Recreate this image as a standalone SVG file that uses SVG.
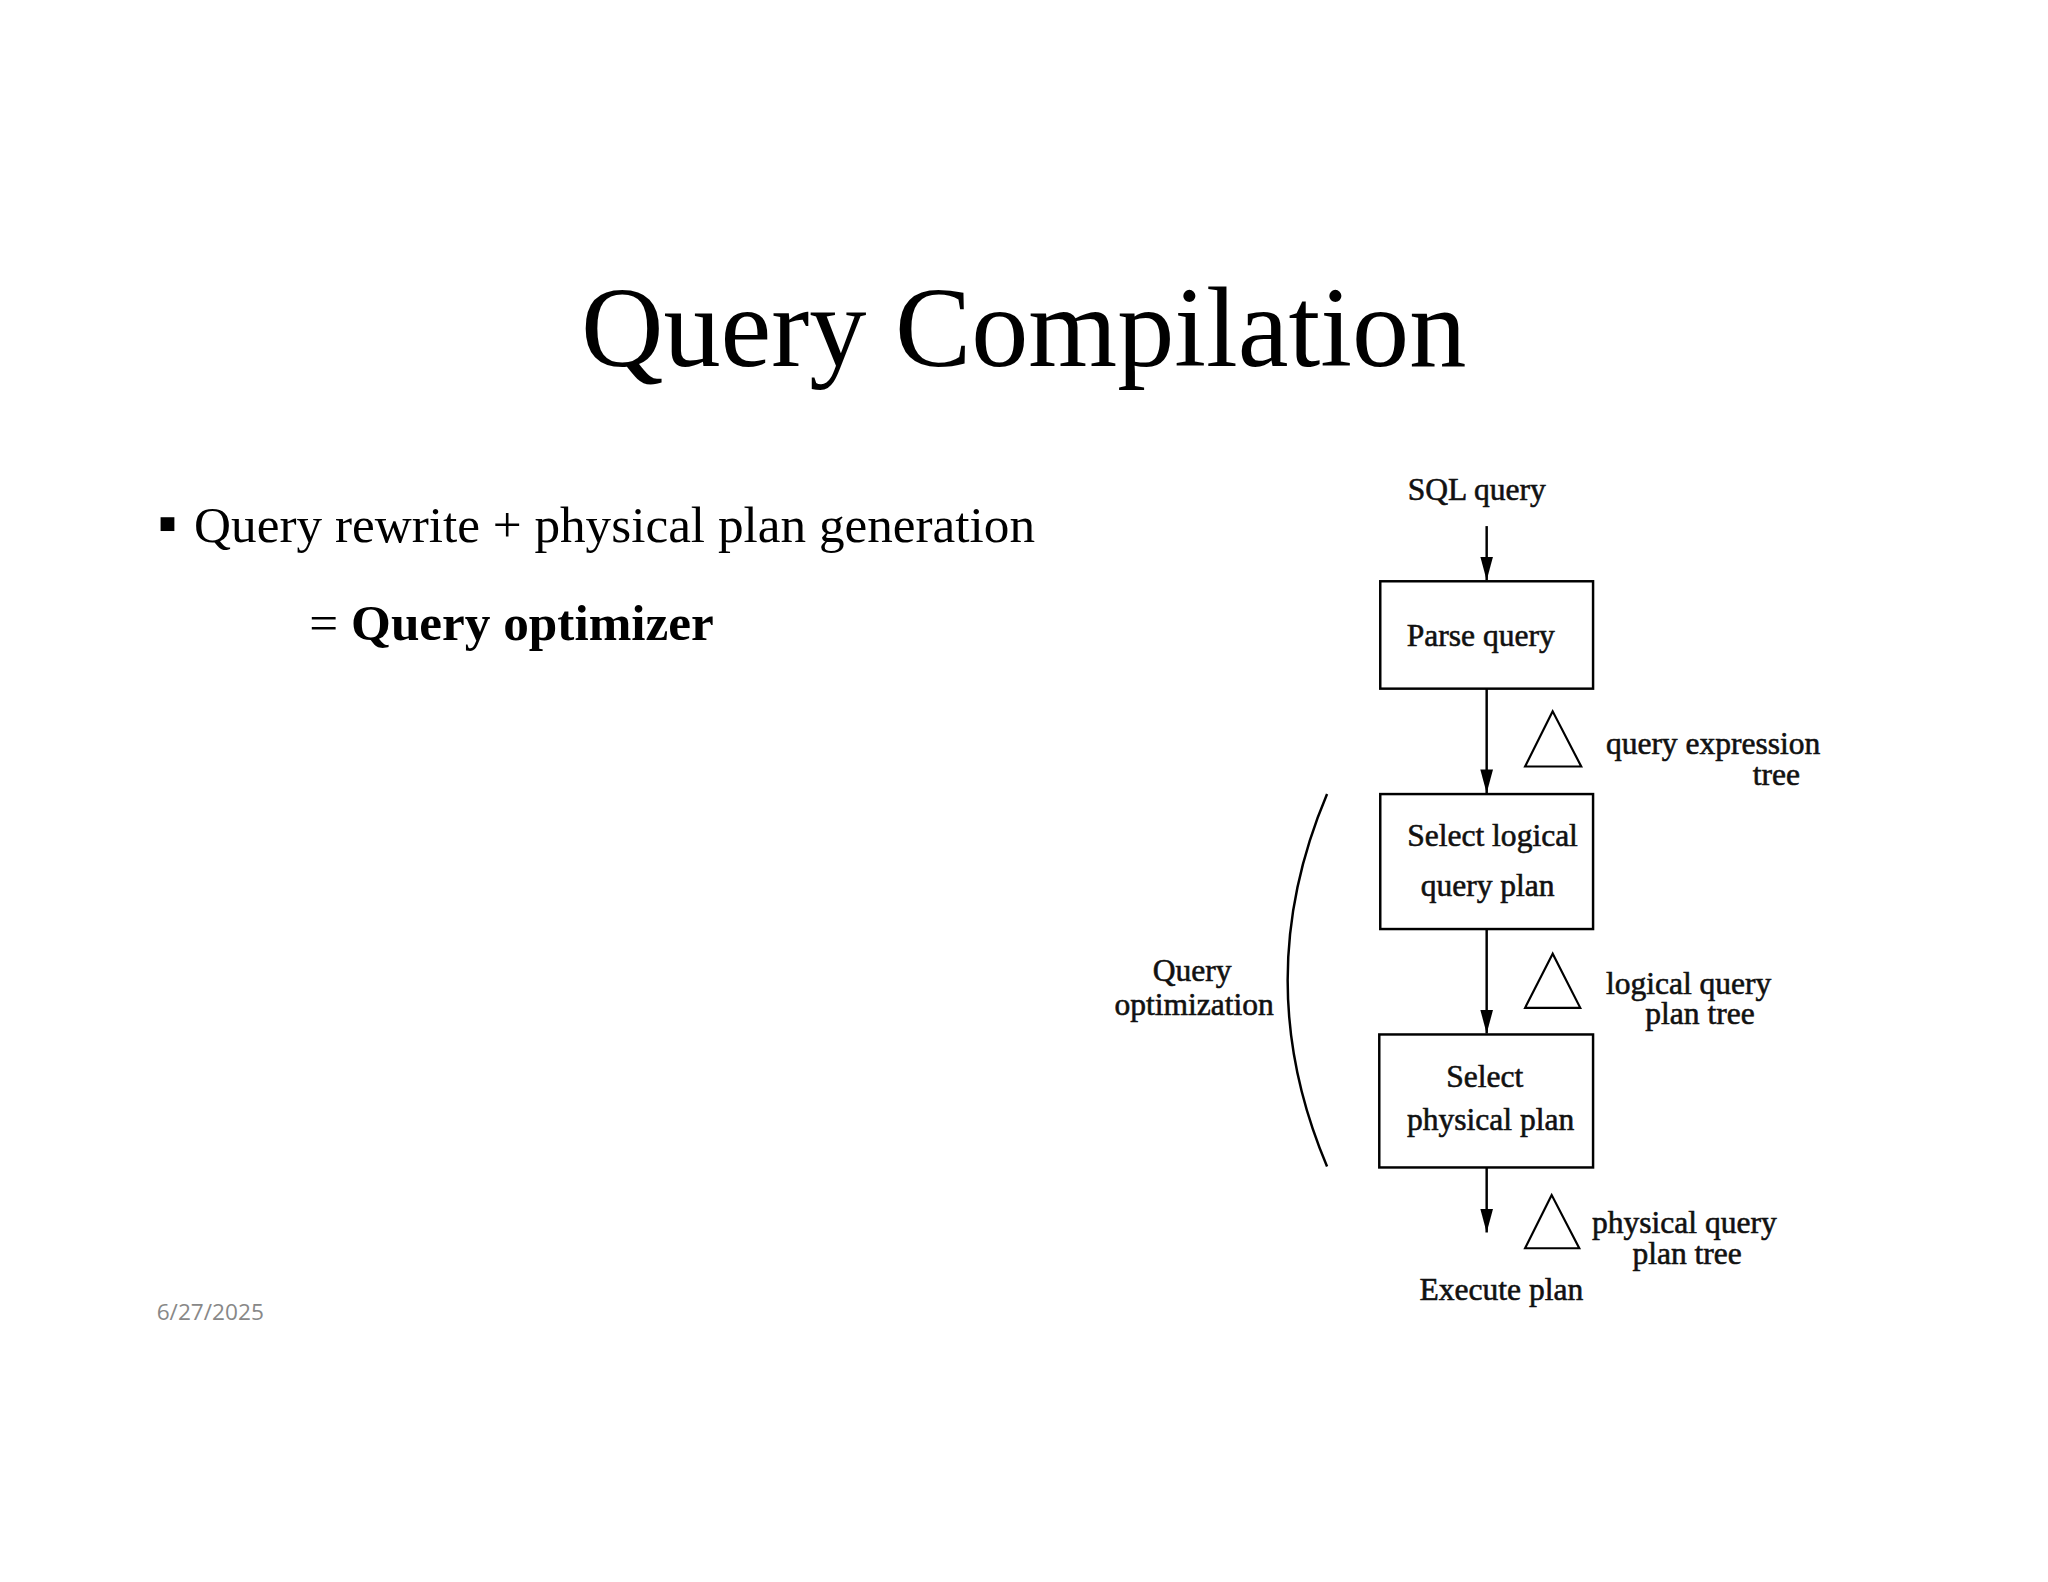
<svg xmlns="http://www.w3.org/2000/svg" width="2048" height="1582" viewBox="0 0 2048 1582">
<defs>
<marker id="arr" markerWidth="24" markerHeight="13" refX="26" refY="7" orient="auto" markerUnits="userSpaceOnUse" viewBox="0 0 26 14"><path d="M0,0 L26,7 L0,14 Z" fill="#000"/></marker>
</defs>
<style>
.t{font-family:"Liberation Serif","Times New Roman",serif;fill:#000}
.d{font-family:"Liberation Serif","Times New Roman",serif;font-size:32px;fill:#111;stroke:#111;stroke-width:0.6}
.box{fill:#fff;stroke:#000;stroke-width:2.5}
.tri{fill:#fff;stroke:#000;stroke-width:2.2}
.ln{stroke:#000;stroke-width:2.5;fill:none}
</style>
<rect width="2048" height="1582" fill="#fff"/>
<g transform="scale(0.9852)">
<text class="t" x="1039" y="371" font-size="116" text-anchor="middle">Query Compilation</text>
<rect x="163" y="525" width="14" height="14" fill="#000"/>
<text class="t" x="197" y="550" font-size="52">Query rewrite + physical plan generation</text>
<text class="t" x="314" y="650" font-size="52">= <tspan font-weight="bold">Query optimizer</tspan></text>
<text x="159" y="1340" font-family="'Open Sans','Liberation Sans',sans-serif" font-size="23" fill="#888">6/27/2025</text>
<g id="connectors">
<line class="ln" x1="1509" y1="534" x2="1509" y2="589" marker-end="url(#arr)"/>
<line class="ln" x1="1509" y1="699" x2="1509" y2="805" marker-end="url(#arr)"/>
<line class="ln" x1="1509" y1="943" x2="1509" y2="1049" marker-end="url(#arr)"/>
<line class="ln" x1="1509" y1="1185" x2="1509" y2="1251" marker-end="url(#arr)"/>
<path class="ln" d="M1347,806 Q1267,995 1347,1184" stroke-width="2"/>
</g>
<g id="sql"><text class="d" x="1499" y="508" text-anchor="middle">SQL query</text></g>
<g id="parse"><rect class="box" x="1401" y="590" width="216" height="109"/><text class="d" x="1503" y="656" text-anchor="middle">Parse query</text></g>
<g id="logical"><rect class="box" x="1401" y="806" width="216" height="137"/><text class="d" x="1515" y="859" text-anchor="middle">Select logical</text><text class="d" x="1510" y="909" text-anchor="middle">query plan</text></g>
<g id="physical"><rect class="box" x="1400" y="1050" width="217" height="135"/><text class="d" x="1507" y="1103" text-anchor="middle">Select</text><text class="d" x="1513" y="1147" text-anchor="middle">physical plan</text></g>
<g id="execute"><text class="d" x="1524" y="1320" text-anchor="middle">Execute plan</text></g>
<g id="tree1"><polygon class="tri" points="1576,722 1548,778 1605,778"/><text class="d" x="1630" y="765">query expression</text><text class="d" x="1827" y="797" text-anchor="end">tree</text></g>
<g id="tree2"><polygon class="tri" points="1576,968 1548,1023 1604,1023"/><text class="d" x="1630" y="1009">logical query</text><text class="d" x="1670" y="1039">plan tree</text></g>
<g id="tree3"><polygon class="tri" points="1575,1213 1548,1267 1603,1267"/><text class="d" x="1616" y="1252">physical query</text><text class="d" x="1657" y="1283">plan tree</text></g>
<g id="qopt"><text class="d" x="1210" y="996" text-anchor="middle">Query</text><text class="d" x="1212" y="1030" text-anchor="middle">optimization</text></g>
</g>
</svg>
